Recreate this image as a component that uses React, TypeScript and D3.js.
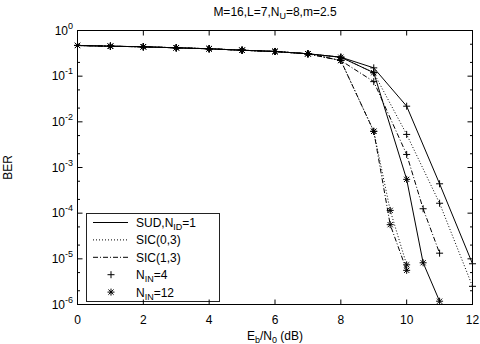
import React from "react";
import * as d3 from "d3";

// Eb/N0 points (dB) and BER for each receiver / iteration count
const sudIn4X = [0, 1, 2, 3, 4, 5, 6, 7, 8, 9, 10, 11, 12];
const sudIn4Y = [0.47, 0.453, 0.44, 0.418, 0.398, 0.37, 0.347, 0.309, 0.26, 0.152, 0.022, 4.4e-4, 7.8e-6];

const sic03In4X = [0, 1, 2, 3, 4, 5, 6, 7, 8, 9, 10, 11, 12];
const sic03In4Y = [0.47, 0.453, 0.44, 0.418, 0.398, 0.37, 0.347, 0.309, 0.26, 0.119, 5.3e-3, 1.65e-4, 2.5e-6];

const sic13In4X = [0, 1, 2, 3, 4, 5, 6, 7, 8, 9, 10, 10.5, 11];
const sic13In4Y = [0.47, 0.453, 0.44, 0.418, 0.398, 0.37, 0.347, 0.309, 0.22, 0.076, 1.93e-3, 1.25e-4, 1.33e-5];

const sudIn12X = [0, 1, 2, 3, 4, 5, 6, 7, 8, 9, 10, 10.5, 11];
const sudIn12Y = [0.47, 0.453, 0.44, 0.418, 0.398, 0.37, 0.347, 0.309, 0.26, 0.119, 5.5e-4, 8.2e-6, 1.18e-6];

const sic03In12X = [0, 1, 2, 3, 4, 5, 6, 7, 8, 9, 9.5, 10];
const sic03In12Y = [0.47, 0.453, 0.44, 0.418, 0.398, 0.37, 0.347, 0.309, 0.22, 6.2e-3, 1.15e-4, 7.4e-6];

const sic13In12X = [0, 1, 2, 3, 4, 5, 6, 7, 8, 9, 9.5, 10];
const sic13In12Y = [0.47, 0.453, 0.44, 0.418, 0.398, 0.37, 0.347, 0.309, 0.22, 6.2e-3, 5.6e-5, 5.6e-6];

const xTicks = [0, 2, 4, 6, 8, 10, 12];
const yExponents = [0, -1, -2, -3, -4, -5, -6];

type Dash = "solid" | "dotted" | "dashdot";
type Mark = "plus" | "star";

const dashArray: Record<Dash, string | undefined> = {
  solid: undefined,
  dotted: "1,2",
  dashdot: "5,2,1,2",
};

const curves: { xs: number[]; ys: number[]; dash: Dash; mark: Mark }[] = [
  { xs: sudIn4X, ys: sudIn4Y, dash: "solid", mark: "plus" },
  { xs: sic03In4X, ys: sic03In4Y, dash: "dotted", mark: "plus" },
  { xs: sic13In4X, ys: sic13In4Y, dash: "dashdot", mark: "plus" },
  { xs: sudIn12X, ys: sudIn12Y, dash: "solid", mark: "star" },
  { xs: sic03In12X, ys: sic03In12Y, dash: "dotted", mark: "star" },
  { xs: sic13In12X, ys: sic13In12Y, dash: "dashdot", mark: "star" },
];

const W = 480;
const H = 344;
const left = 77.5;
const right = 472.5;
const top = 30.5;
const bottom = 304.5;
const FONT = "'Liberation Sans', Arial, Helvetica, sans-serif";

function Marker({ x, y, kind }: { x: number; y: number; kind: Mark }) {
  const s = 3.5;
  const d = 2.6;
  return (
    <g stroke="#000" strokeWidth={1} fill="none">
      <line x1={x - s} y1={y} x2={x + s} y2={y} />
      <line x1={x} y1={y - s} x2={x} y2={y + s} />
      {kind === "star" && (
        <>
          <line x1={x - d} y1={y - d} x2={x + d} y2={y + d} />
          <line x1={x - d} y1={y + d} x2={x + d} y2={y - d} />
        </>
      )}
    </g>
  );
}

export default function App() {
  const x = d3.scaleLinear().domain([0, 12]).range([left, right]);
  const y = d3.scaleLog().domain([1e-6, 1]).range([bottom, top]);
  const line = d3
    .line<[number, number]>()
    .x((d) => x(d[0]))
    .y((d) => y(d[1]));

  const minorTicks: number[] = [];
  for (let e = -6; e < 0; e++) {
    minorTicks.push(2 * Math.pow(10, e), 5 * Math.pow(10, e));
  }

  const major = 5;
  const minor = 2.5;

  const legendRows: { dash?: Dash; mark?: Mark; label: React.ReactNode }[] = [
    {
      dash: "solid",
      label: (
        <>
          SUD,N<tspan dy={3} fontSize={9}>ID</tspan>
          <tspan dy={-3}>=1</tspan>
        </>
      ),
    },
    { dash: "dotted", label: "SIC(0,3)" },
    { dash: "dashdot", label: "SIC(1,3)" },
    {
      mark: "plus",
      label: (
        <>
          N<tspan dy={3} fontSize={9}>IN</tspan>
          <tspan dy={-3}>=4</tspan>
        </>
      ),
    },
    {
      mark: "star",
      label: (
        <>
          N<tspan dy={3} fontSize={9}>IN</tspan>
          <tspan dy={-3}>=12</tspan>
        </>
      ),
    },
  ];

  const lgX0 = 86.5;
  const lgY0 = 213.5;
  const lgX1 = 219.5;
  const lgY1 = 301.5;
  const rowY0 = 222.5;
  const rowStep = 17.4;

  return (
    <svg
      width={W}
      height={H}
      style={{ position: "absolute", left: 0, top: 0, background: "#fff" }}
      fontFamily={FONT}
    >
      <rect x={0} y={0} width={W} height={H} fill="#fff" />

      {/* title */}
      <text x={(left + right) / 2} y={16} textAnchor="middle" fontSize={12}>
        M=16,L=7,N<tspan dy={3} fontSize={9}>U</tspan>
        <tspan dy={-3}>=8,m=2.5</tspan>
      </text>

      {/* curves */}
      {curves.map((c, i) => (
        <path
          key={`c${i}`}
          d={line(c.xs.map((v, j) => [v, c.ys[j]] as [number, number])) || ""}
          fill="none"
          stroke="#000"
          strokeWidth={1}
          strokeDasharray={dashArray[c.dash]}
        />
      ))}
      {curves.map((c, i) =>
        c.xs.map((v, j) => (
          <Marker key={`m${i}-${j}`} x={x(v)} y={y(c.ys[j])} kind={c.mark} />
        ))
      )}

      {/* legend */}
      <rect
        x={lgX0}
        y={lgY0}
        width={lgX1 - lgX0}
        height={lgY1 - lgY0}
        fill="#fff"
        stroke="#222"
        strokeWidth={1}
      />
      {legendRows.map((r, i) => {
        const ry = rowY0 + i * rowStep;
        return (
          <g key={`lg${i}`}>
            {r.dash && (
              <line
                x1={93}
                x2={128}
                y1={ry}
                y2={ry}
                stroke="#000"
                strokeWidth={1}
                strokeDasharray={dashArray[r.dash]}
              />
            )}
            {r.mark && <Marker x={111} y={ry} kind={r.mark} />}
            <text x={136} y={ry + 4.5} fontSize={12}>
              {r.label}
            </text>
          </g>
        );
      })}

      {/* frame */}
      <rect
        x={left}
        y={top}
        width={right - left}
        height={bottom - top}
        fill="none"
        stroke="#000"
        strokeWidth={1}
      />

      {/* x ticks */}
      {xTicks.map((t) => (
        <g key={`xt${t}`}>
          <line x1={x(t)} x2={x(t)} y1={bottom} y2={bottom - major} stroke="#000" />
          <line x1={x(t)} x2={x(t)} y1={top} y2={top + major} stroke="#000" />
          <text x={x(t)} y={324} textAnchor="middle" fontSize={12}>
            {t}
          </text>
        </g>
      ))}

      {/* y ticks */}
      {yExponents.map((e) => {
        const yy = y(Math.pow(10, e));
        return (
          <g key={`yt${e}`}>
            <line x1={left} x2={left + major} y1={yy} y2={yy} stroke="#000" />
            <line x1={right} x2={right - major} y1={yy} y2={yy} stroke="#000" />
            <text x={73} y={yy + 4} textAnchor="end" fontSize={12}>
              10<tspan dy={-6} fontSize={9}>{e === 0 ? "0" : `${e}`}</tspan>
            </text>
          </g>
        );
      })}
      {minorTicks.map((v, i) => {
        const yy = y(v);
        return (
          <g key={`ym${i}`}>
            <line x1={left} x2={left + minor} y1={yy} y2={yy} stroke="#000" />
            <line x1={right} x2={right - minor} y1={yy} y2={yy} stroke="#000" />
          </g>
        );
      })}

      {/* axis titles */}
      <text x={(left + right) / 2} y={340} textAnchor="middle" fontSize={12}>
        E<tspan dy={3} fontSize={9}>b</tspan>
        <tspan dy={-3}>/N</tspan>
        <tspan dy={3} fontSize={9}>0</tspan>
        <tspan dy={-3}> (dB)</tspan>
      </text>
      <text
        transform={`translate(12,${(top + bottom) / 2}) rotate(-90)`}
        textAnchor="middle"
        fontSize={12}
      >
        BER
      </text>
    </svg>
  );
}
